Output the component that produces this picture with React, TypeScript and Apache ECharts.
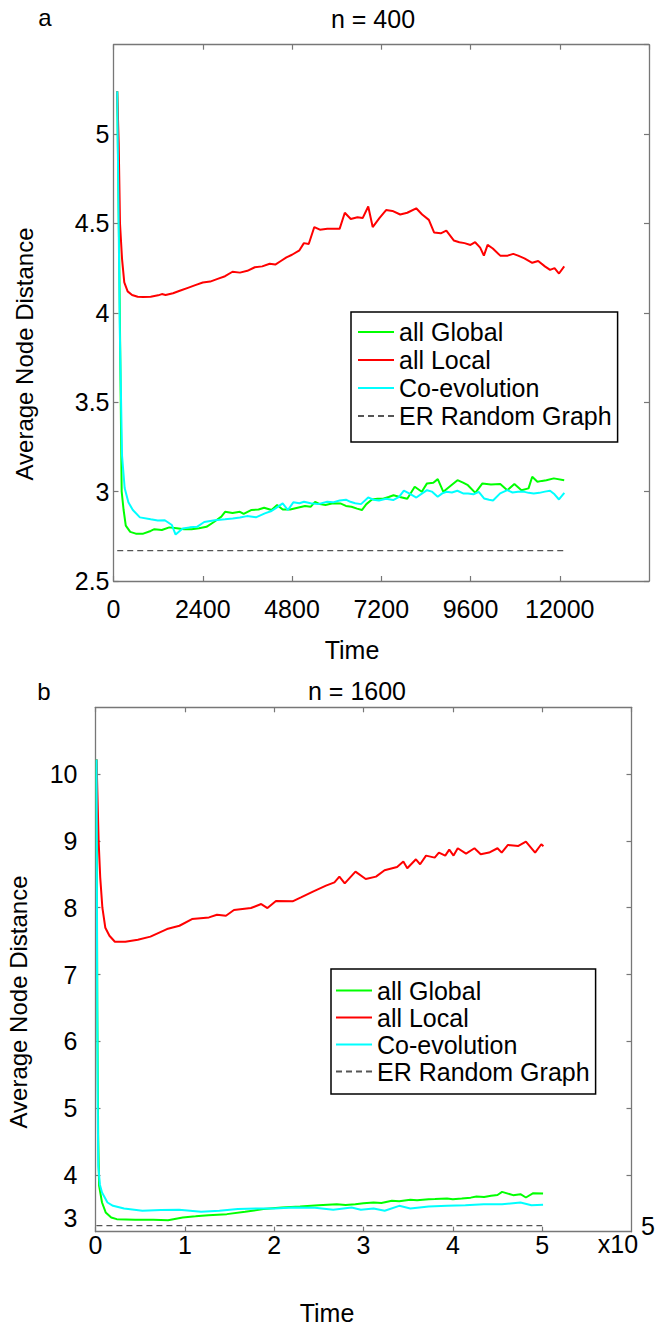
import { useEffect, useRef } from "react";
import * as echarts from "echarts";

const FONT = "'Liberation Sans', Arial, Helvetica, sans-serif";

const seriesNames = ["all Global", "all Local", "Co-evolution", "ER Random Graph"];
const seriesColors = ["#00ff00", "#ff0000", "#00ffff", "#555555"];

// Panel a (n = 400): x axis ticks 0..14400 step 2400, y ticks 2.5..5.5 step 0.5
const xTicksA = [0, 2400, 4800, 7200, 9600, 12000, 14400];
const yTicksA = [2.5, 3, 3.5, 4, 4.5, 5, 5.5];
// Panel b (n = 1600): x in units of 10^5; y range 3.15..11
const xTicksB = [0, 1, 2, 3, 4, 5, 6];
const yRangeB = [3.15, 11];
const yTickValuesB = [4, 5, 6, 7, 8, 9, 10];
const yLabelValuesB = [3.35, 4, 5, 6, 7, 8, 9, 10]; // the "3" label sits just above the axis

// ---- Panel a data: [time, average node distance]
const globalA: [number, number][] = [
  [100, 5.24], [160, 4.2], [220, 3.0], [270, 2.9], [330, 2.81], [450, 2.775], [600, 2.765],
  [800, 2.765], [1000, 2.78], [1100, 2.79], [1300, 2.785], [1500, 2.8], [1700, 2.795],
  [1900, 2.789], [2100, 2.79], [2300, 2.795], [2500, 2.803], [2700, 2.83], [2900, 2.86],
  [3000, 2.887], [3200, 2.88], [3400, 2.887], [3500, 2.875], [3700, 2.897], [3900, 2.9],
  [4050, 2.91], [4250, 2.897], [4400, 2.925], [4550, 2.9], [4750, 2.9], [4950, 2.91],
  [5150, 2.92], [5300, 2.915], [5420, 2.943], [5550, 2.93], [5700, 2.925], [5900, 2.935],
  [6100, 2.934], [6250, 2.92], [6400, 2.915], [6550, 2.905], [6680, 2.897], [6800, 2.93],
  [6950, 2.956], [7100, 2.96], [7250, 2.96], [7400, 2.97], [7530, 2.98], [7700, 2.97],
  [7900, 2.96], [8100, 3.027], [8290, 2.999], [8430, 3.046], [8600, 3.05], [8720, 3.07],
  [8870, 2.999], [9050, 3.03], [9250, 3.064], [9400, 3.05], [9530, 3.036], [9730, 2.993],
  [9920, 3.046], [10150, 3.04], [10400, 3.042], [10590, 3.008], [10780, 3.042], [10970, 3.008],
  [11160, 3.018], [11260, 3.083], [11400, 3.055], [11520, 3.06], [11640, 3.064], [11840, 3.074],
  [12120, 3.064],
];
const localA: [number, number][] = [
  [100, 5.24], [140, 4.95], [175, 4.5], [230, 4.3], [290, 4.17], [380, 4.12], [500, 4.1],
  [650, 4.09], [800, 4.088], [1000, 4.09], [1200, 4.098], [1300, 4.105], [1400, 4.1],
  [1600, 4.11], [1800, 4.125], [2000, 4.14], [2200, 4.155], [2400, 4.17], [2600, 4.175],
  [2800, 4.19], [3000, 4.205], [3200, 4.23], [3400, 4.225], [3600, 4.235], [3800, 4.255],
  [4000, 4.26], [4200, 4.275], [4350, 4.27], [4500, 4.29], [4650, 4.31], [4800, 4.325],
  [5000, 4.35], [5120, 4.39], [5250, 4.385], [5400, 4.48], [5550, 4.465], [5750, 4.47],
  [5900, 4.47], [6080, 4.47], [6220, 4.56], [6380, 4.525], [6560, 4.535], [6700, 4.53],
  [6850, 4.595], [6970, 4.48], [7150, 4.53], [7330, 4.575], [7500, 4.57], [7710, 4.55],
  [7900, 4.56], [8140, 4.585], [8300, 4.55], [8480, 4.52], [8620, 4.45], [8800, 4.445],
  [8950, 4.46], [9150, 4.405], [9300, 4.395], [9440, 4.39], [9600, 4.38], [9725, 4.395],
  [9860, 4.365], [9960, 4.32], [10060, 4.38], [10200, 4.36], [10400, 4.32], [10600, 4.32],
  [10750, 4.33], [10880, 4.32], [11050, 4.305], [11260, 4.28], [11420, 4.29], [11600, 4.26],
  [11740, 4.24], [11860, 4.25], [11980, 4.22], [12120, 4.26],
];
const coevoA: [number, number][] = [
  [100, 5.24], [170, 3.9], [230, 3.2], [300, 3.02], [400, 2.94], [520, 2.897], [710, 2.856],
  [1000, 2.845], [1190, 2.838], [1380, 2.84], [1570, 2.813], [1670, 2.76], [1860, 2.794],
  [2050, 2.8], [2245, 2.803], [2440, 2.83], [2725, 2.84], [3000, 2.845], [3206, 2.85],
  [3400, 2.855], [3590, 2.863], [3830, 2.856], [4070, 2.878], [4230, 2.89], [4355, 2.906],
  [4550, 2.934], [4690, 2.897], [4835, 2.94], [5000, 2.935], [5123, 2.943], [5300, 2.935],
  [5507, 2.93], [5746, 2.943], [5900, 2.94], [6082, 2.95], [6250, 2.955], [6369, 2.943],
  [6500, 2.935], [6656, 2.93], [6849, 2.967], [6990, 2.955], [7137, 2.95], [7330, 2.96],
  [7521, 2.953], [7680, 2.97], [7808, 3.005], [7950, 2.99], [8144, 2.967], [8300, 2.99],
  [8431, 3.008], [8560, 3.0], [8718, 2.971], [8840, 2.99], [8957, 2.999], [9100, 2.995],
  [9247, 3.005], [9400, 2.99], [9534, 2.99], [9680, 2.985], [9822, 2.999], [9964, 2.962],
  [10100, 2.955], [10206, 2.95], [10397, 2.99], [10590, 3.008], [10730, 2.995], [10877, 2.999],
  [11020, 3.0], [11164, 2.993], [11300, 2.99], [11452, 2.993], [11600, 3.0], [11739, 3.005],
  [11860, 2.985], [11979, 2.956], [12123, 2.993],
];
const erA: [number, number][] = [[100, 2.67], [12150, 2.67]];

// ---- Panel b data: [time (x10^5), average node distance]
const globalB: [number, number][] = [
  [0.012, 10.22], [0.02, 6.5], [0.03, 4.6], [0.04, 3.84], [0.073, 3.587], [0.114, 3.438],
  [0.176, 3.363], [0.238, 3.338], [0.443, 3.328], [0.648, 3.33], [0.812, 3.323], [0.977, 3.363],
  [1.12, 3.38], [1.264, 3.398], [1.47, 3.413], [1.675, 3.448], [1.88, 3.488], [2.086, 3.512],
  [2.29, 3.527], [2.497, 3.547], [2.7, 3.56], [2.8, 3.55], [2.908, 3.562], [3.0, 3.575],
  [3.113, 3.587], [3.2, 3.58], [3.318, 3.612], [3.4, 3.605], [3.524, 3.627], [3.6, 3.62],
  [3.73, 3.637], [3.8, 3.64], [3.935, 3.647], [4.0, 3.635], [4.1, 3.647], [4.2, 3.66],
  [4.264, 3.677], [4.35, 3.67], [4.428, 3.687], [4.5, 3.7], [4.551, 3.746], [4.675, 3.697],
  [4.757, 3.711], [4.818, 3.662], [4.9, 3.726], [5.01, 3.721],
];
const localB: [number, number][] = [
  [0.012, 10.22], [0.035, 9.0], [0.053, 8.45], [0.077, 8.0], [0.11, 7.7], [0.156, 7.58],
  [0.217, 7.49], [0.334, 7.49], [0.474, 7.52], [0.615, 7.567], [0.8, 7.68], [0.94, 7.73],
  [1.08, 7.83], [1.27, 7.855], [1.36, 7.895], [1.46, 7.88], [1.55, 7.965], [1.74, 7.995],
  [1.855, 8.055], [1.925, 7.995], [2.02, 8.1], [2.206, 8.095], [2.3, 8.155], [2.44, 8.245],
  [2.58, 8.33], [2.675, 8.38], [2.73, 8.465], [2.79, 8.365], [2.91, 8.54], [3.025, 8.43],
  [3.14, 8.465], [3.236, 8.56], [3.376, 8.61], [3.446, 8.69], [3.49, 8.59], [3.587, 8.725],
  [3.634, 8.65], [3.7, 8.78], [3.797, 8.75], [3.844, 8.825], [3.915, 8.78], [3.96, 8.87],
  [4.008, 8.78], [4.055, 8.89], [4.148, 8.81], [4.242, 8.89], [4.312, 8.8], [4.406, 8.825],
  [4.5, 8.89], [4.547, 8.825], [4.617, 8.94], [4.734, 8.925], [4.818, 8.99], [4.874, 8.9],
  [4.921, 8.825], [4.99, 8.95], [5.014, 8.92],
];
const coevoB: [number, number][] = [
  [0.012, 10.22], [0.018, 7.0], [0.025, 5.0], [0.031, 4.134], [0.05, 3.85], [0.073, 3.736],
  [0.134, 3.587], [0.196, 3.537], [0.32, 3.498], [0.525, 3.463], [0.73, 3.473], [0.936, 3.478],
  [1.182, 3.448], [1.387, 3.463], [1.593, 3.488], [1.798, 3.498], [2.004, 3.498], [2.21, 3.512],
  [2.456, 3.507], [2.661, 3.478], [2.867, 3.512], [2.97, 3.478], [3.113, 3.498], [3.237, 3.463],
  [3.4, 3.537], [3.524, 3.498], [3.73, 3.527], [3.935, 3.537], [4.14, 3.547], [4.346, 3.562],
  [4.551, 3.562], [4.757, 3.587], [4.88, 3.547], [5.01, 3.552],
];
const erB: [number, number][] = [[0.01, 3.24], [5.0, 3.24]];

const axisColor = "#777777";
const plainNumber = (v: number) => String(v);

const lineCommon = { show: true, onZero: false, lineStyle: { color: axisColor, width: 1.3 } };
const tickCommon = { show: true, inside: true, length: 5, lineStyle: { color: axisColor, width: 1.2 } };
const labelCommon = { color: "#000", fontSize: 25, fontFamily: FONT };

function makeX(gridIndex: number, ticks: number[], position: "top" | "bottom", showLabel: boolean, margin: number) {
  return {
    type: "value",
    gridIndex,
    position,
    min: ticks[0],
    max: ticks[ticks.length - 1],
    interval: ticks[1] - ticks[0],
    axisLine: lineCommon,
    axisTick: tickCommon,
    axisLabel: { ...labelCommon, show: showLabel, showMaxLabel: false, margin, formatter: plainNumber },
    splitLine: { show: false },
  };
}

function makeYA(position: "left" | "right", showLabel: boolean) {
  return {
    type: "value",
    gridIndex: 0,
    position,
    min: yTicksA[0],
    max: yTicksA[yTicksA.length - 1],
    interval: yTicksA[1] - yTicksA[0],
    axisLine: lineCommon,
    axisTick: tickCommon,
    axisLabel: { ...labelCommon, show: showLabel, showMaxLabel: false, margin: 4, formatter: plainNumber },
    splitLine: { show: false },
  };
}

function makeYB(position: "left" | "right", showLabel: boolean) {
  return {
    type: "value",
    gridIndex: 1,
    position,
    min: yRangeB[0],
    max: yRangeB[1],
    axisLine: lineCommon,
    axisTick: { ...tickCommon, customValues: yTickValuesB },
    axisLabel: {
      ...labelCommon,
      show: showLabel,
      margin: 18,
      customValues: yLabelValuesB,
      formatter: (v: number) => String(Math.round(v)),
    },
    splitLine: { show: false },
  };
}

function makeSeries(data: [number, number][][], xIdx: number, yIdx: number) {
  return data.map((d, i) => ({
    type: "line",
    name: seriesNames[i],
    xAxisIndex: xIdx,
    yAxisIndex: yIdx,
    data: d,
    symbol: "none",
    showSymbol: false,
    clip: true,
    z: i === 3 ? 1 : 2 + i,
    lineStyle: {
      color: seriesColors[i],
      width: i === 3 ? 1.3 : 2,
      type: i === 3 ? [6, 4] : "solid",
    },
    itemStyle: { color: seriesColors[i] },
    emphasis: { disabled: true },
  }));
}

function makeLegend(left: number, top: number, lineHeight: number, padding: number[], itemWidth: number) {
  return {
    orient: "vertical",
    left,
    top,
    data: seriesNames,
    selectedMode: false,
    borderColor: "#000",
    borderWidth: 1.5,
    backgroundColor: "#fff",
    padding,
    itemGap: 0,
    itemWidth,
    itemHeight: 12,
    itemStyle: { color: "rgba(0,0,0,0)", borderColor: "rgba(0,0,0,0)", borderWidth: 0, opacity: 0 },
    textStyle: { fontSize: 25, color: "#000", fontFamily: FONT, lineHeight },
  };
}

function txt(text: string, x: number, y: number, extra: any = {}) {
  return {
    type: "text",
    x,
    y,
    rotation: extra.rotation || 0,
    style: {
      text,
      fontSize: extra.fontSize || 25,
      fontFamily: FONT,
      fill: "#000",
      align: extra.align || "center",
      verticalAlign: "middle",
    },
  };
}

export default function App() {
  const ref = useRef<HTMLDivElement>(null);
  useEffect(() => {
    document.body.style.margin = "0";
    if (!ref.current) return;
    const chart = echarts.init(ref.current, undefined, { renderer: "svg" });
    const option: any = {
      animation: false,
      backgroundColor: "#fff",
      grid: [
        { left: 113.5, top: 44.7, width: 535.5, height: 536.3, containLabel: false },
        { left: 95.5, top: 707.3, width: 536, height: 524.4, containLabel: false },
      ],
      xAxis: [
        makeX(0, xTicksA, "bottom", true, 15),
        makeX(0, xTicksA, "top", false, 8),
        makeX(1, xTicksB, "bottom", true, 1),
        makeX(1, xTicksB, "top", false, 8),
      ],
      yAxis: [makeYA("left", true), makeYA("right", false), makeYB("left", true), makeYB("right", false)],
      legend: [
        makeLegend(351, 312, 28, [6, 6, 12, 6], 36),
        makeLegend(331, 969, 27, [8, 6, 9, 4], 36),
      ],
      series: [
        ...makeSeries([globalA, localA, coevoA, erA], 0, 0),
        ...makeSeries([globalB, localB, coevoB, erB], 2, 2),
      ],
      graphic: [
        txt("a", 45, 17, { fontSize: 24 }),
        txt("n = 400", 373, 19),
        txt("Time", 352, 650),
        txt("Average Node Distance", 24, 354, { rotation: Math.PI / 2, fontSize: 24 }),
        txt("b", 44, 691, { fontSize: 24 }),
        txt("n = 1600", 357, 691),
        txt("Time", 327, 1313),
        txt("Average Node Distance", 18, 1002, { rotation: Math.PI / 2, fontSize: 24 }),
        txt("x10", 618, 1244),
        txt("5", 648, 1226),
      ],
    };
    chart.setOption(option);
    return () => chart.dispose();
  }, []);
  return <div ref={ref} style={{ width: 655, height: 1333 }} />;
}
